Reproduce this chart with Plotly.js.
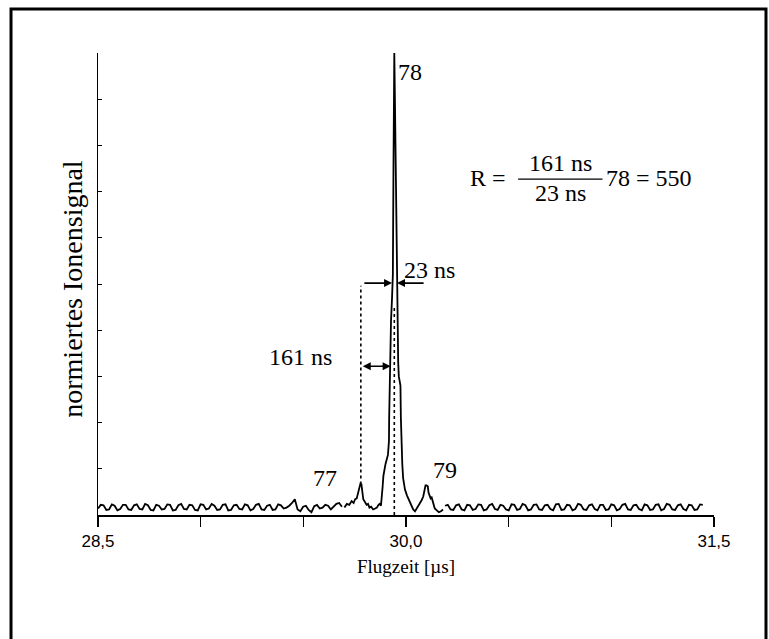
<!DOCTYPE html>
<html>
<head>
<meta charset="utf-8">
<script src="https://cdn.plot.ly/plotly-3.0.1.min.js"></script>
<style>html,body{margin:0;padding:0;background:#fff;}#chart{width:769px;height:639px;}</style>
</head>
<body>
<div id="chart"></div>
<script>
// Time-of-flight spectrum, normalised ion signal
var leftNoiseStart = 28.5;
var noiseStep = 0.0135;
var leftNoise = [
  0.014,0.022,0.021,0.011, 0.012,0.023,0.020,0.010, 0.013,0.022,0.022,0.012,
  0.011,0.021,0.023,0.013, 0.012,0.024,0.021,0.011, 0.010,0.022,0.020,0.012,
  0.013,0.023,0.022,0.010, 0.011,0.021,0.024,0.013, 0.012,0.022,0.021,0.011,
  0.010,0.023,0.022,0.012, 0.014,0.024,0.020,0.011, 0.012,0.022,0.023,0.010,
  0.011,0.021,0.022,0.013, 0.012,0.023,0.021,0.010, 0.013,0.022,0.024,0.012,
  0.011,0.020,0.022,0.011, 0.012,0.023,0.021,0.014, 0.016,0.020,0.026,0.034,
  0.012,0.008,0.018,0.020, 0.011,0.006,0.019,0.022, 0.014,0.016,0.022,0.020,
  0.012,0.018,0.024,0.026,0.018
];
var peakTime = [
  29.700,29.712,29.724,29.735,29.745,29.752,29.760,29.768,29.774,29.778,
  29.783,29.787,29.792,29.800,29.808,29.815,29.822,29.830,29.840,29.850,
  29.858,29.866,29.872,29.878,29.882,29.886,29.890,29.900,29.912,29.917,
  29.918,29.920,29.923,29.927,29.932,29.936,29.939,29.941,29.943,29.946,
  29.950,29.954,29.957,29.961,29.962,29.965,29.973,29.975,29.978,29.982,
  29.986,29.995,30.005,30.015,30.025,30.035,30.044,30.052,30.060,30.068,
  30.076,30.084,30.090,30.095,30.100,30.106,30.110,30.115,30.120,30.125,
  30.130,30.135,30.140,30.150,30.160,30.170,30.180
];
var peakSignal = [
  0.016,0.024,0.022,0.030,0.026,0.034,0.036,0.048,0.060,0.068,
  0.066,0.050,0.034,0.028,0.022,0.024,0.016,0.018,0.012,0.014,
  0.016,0.022,0.024,0.020,0.035,0.060,0.085,0.110,0.130,0.160,
  0.210,0.280,0.330,0.420,0.470,0.520,0.750,0.890,1.000,0.900,
  0.750,0.550,0.460,0.420,0.330,0.300,0.280,0.210,0.150,0.110,
  0.080,0.055,0.042,0.032,0.022,0.012,0.008,0.014,0.018,0.026,
  0.032,0.040,0.054,0.064,0.064,0.062,0.048,0.040,0.036,0.038,
  0.030,0.022,0.014,0.010,0.006,0.008,0.012
];
var rightNoiseStart = 30.19;
var rightNoise = [
  0.020,0.022,0.012,0.011, 0.021,0.023,0.012,0.010, 0.022,0.021,0.011,0.013,
  0.023,0.022,0.010,0.012, 0.021,0.024,0.013,0.011, 0.022,0.020,0.012,0.010,
  0.023,0.022,0.011,0.013, 0.024,0.021,0.010,0.012, 0.022,0.023,0.012,0.011,
  0.021,0.022,0.013,0.010, 0.023,0.024,0.011,0.012, 0.022,0.021,0.010,0.013,
  0.024,0.022,0.012,0.011, 0.021,0.023,0.013,0.010, 0.022,0.022,0.011,0.012,
  0.023,0.021,0.010,0.013, 0.022,0.024,0.012,0.011, 0.021,0.022,0.013,0.010,
  0.023,0.021,0.011,0.012, 0.022,0.023,0.010,0.013, 0.024,0.022,0.012,0.011,
  0.021,0.023,0.013,0.010, 0.022,0.021,0.011,0.012, 0.023,0.022
];
var xTickVals = [28.5,29.0,29.5,30.0,30.5,31.0,31.5];
var xTickText = ['28,5','','','30,0','','','31,5'];

var serif = 'Liberation Serif, Times New Roman, serif';
var sans = 'Liberation Sans, Arial, sans-serif';
var lineStyle = {color:'#000', width:1.8};
var annSize = 24;

var traces = [
  {type:'scatter', mode:'lines', x0:leftNoiseStart, dx:noiseStep, y:leftNoise, line:lineStyle, hoverinfo:'skip'},
  {type:'scatter', mode:'lines', x:peakTime, y:peakSignal, line:lineStyle, hoverinfo:'skip'},
  {type:'scatter', mode:'lines', x0:rightNoiseStart, dx:noiseStep, y:rightNoise, line:lineStyle, hoverinfo:'skip'}
];

function txt(x, y, t, xa){
  return {x:x, y:y, xref:'x', yref:'y', text:t, showarrow:false, xanchor:xa||'center', yanchor:'middle',
          font:{family:serif, size:annSize, color:'#000'}};
}
function ptxt(x, y, t, xa){
  return {x:x, y:y, xref:'paper', yref:'paper', text:t, showarrow:false, xanchor:xa||'center', yanchor:'middle',
          font:{family:serif, size:annSize, color:'#000'}};
}
function arrow(x, y, ax, ay, side){
  return {x:x, y:y, ax:ax, ay:ay, xref:'x', yref:'y', axref:'x', ayref:'y', text:'', showarrow:true,
          arrowhead:2, arrowsize:1, arrowwidth:1.6, arrowcolor:'#000', arrowside:side||'end', standoff:0, startstandoff:0};
}

var annotations = [
  txt(29.953, 0.959, '78', 'left'),
  txt(29.979, 0.530, '23 ns', 'left'),
  txt(29.484, 0.343, '161 ns', 'center'),
  txt(29.606, 0.080, '77', 'center'),
  txt(30.190, 0.097, '79', 'center'),
  arrow(29.932, 0.502, 29.790, 0.502),
  arrow(29.956, 0.502, 30.093, 0.502),
  arrow(29.925, 0.322, 29.782, 0.322, 'end+start'),
  ptxt(0.600, 0.729, 'R =', 'left'),
  ptxt(0.7500, 0.762, '161 ns', 'center'),
  ptxt(0.7500, 0.697, '23 ns', 'center'),
  ptxt(0.821, 0.729, '78 = 550', 'left'),
  {x:-0.042, y:0.49, xref:'paper', yref:'paper', text:'normiertes Ionensignal', showarrow:false,
   textangle:-90, xanchor:'center', yanchor:'middle', font:{family:serif, size:28, color:'#000'}}
];

var shapes = [
  {type:'line', xref:'x', yref:'y', x0:29.78, x1:29.78, y0:0.066, y1:0.496, line:{color:'#000', width:1.6, dash:'dot'}},
  {type:'line', xref:'x', yref:'y', x0:29.943, x1:29.943, y0:0.0, y1:0.45, line:{color:'#000', width:1.6, dash:'dot'}},
  {type:'line', xref:'paper', yref:'paper', x0:0.682, x1:0.819, y0:0.727, y1:0.727, line:{color:'#000', width:1.3}},
  {type:'rect', xref:'paper', yref:'paper', x0:-0.1412, x1:1.0844, y0:-0.35, y1:1.0952, line:{color:'#000', width:3}}
];

var layout = {
  width:769, height:639,
  margin:{l:98, r:55, t:53, b:124},
  paper_bgcolor:'#fff', plot_bgcolor:'#fff',
  showlegend:false,
  xaxis:{range:[28.5,31.5], showline:true, linecolor:'#000', linewidth:1.5, mirror:false,
         ticks:'outside', ticklen:10, tickwidth:1.5, tickcolor:'#000',
         tickvals:xTickVals, ticktext:xTickText, tickfont:{family:sans, size:17, color:'#000'},
         showgrid:false, zeroline:false, automargin:false,
         title:{text:'Flugzeit [µs]', font:{family:serif, size:19, color:'#000'}, standoff:10}},
  yaxis:{range:[0,1], showline:true, linecolor:'#000', linewidth:1.5,
         ticks:'inside', ticklen:4, tickwidth:1, tickcolor:'#000', dtick:0.1, tick0:0,
         showticklabels:false, showgrid:false, zeroline:false, automargin:false},
  annotations:annotations,
  shapes:shapes
};

Plotly.newPlot('chart', traces, layout, {displayModeBar:false, staticPlot:true});
</script>
</body>
</html>
